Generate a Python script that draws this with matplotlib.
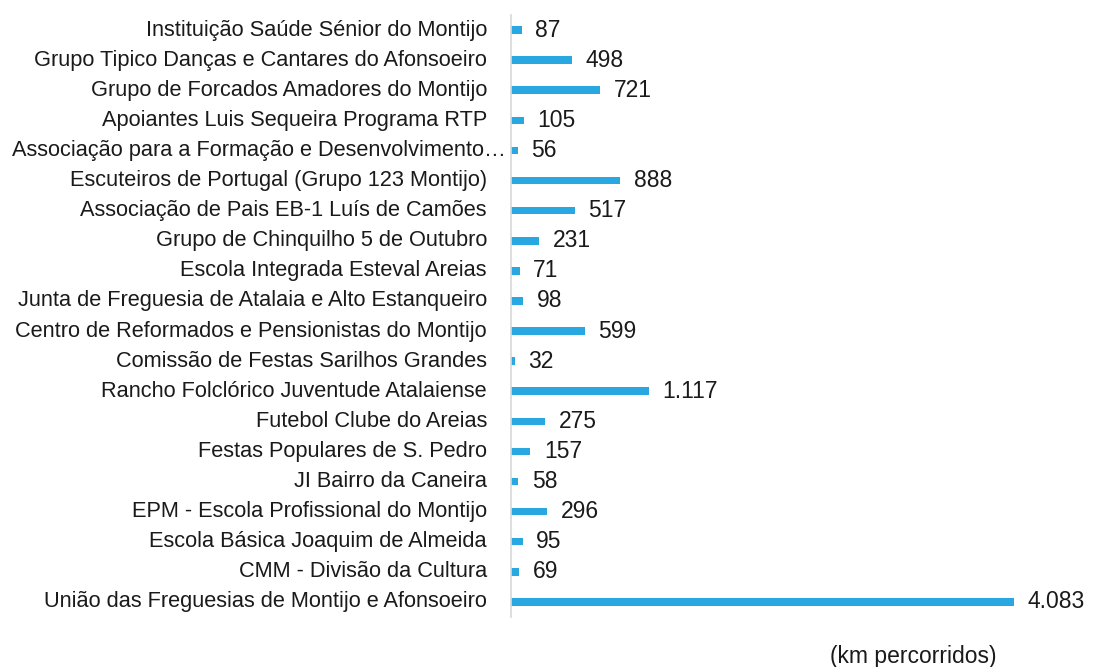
import matplotlib.pyplot as plt
import matplotlib.transforms as mtransforms

plt.rcParams['font.family'] = ['Liberation Sans', 'DejaVu Sans']

labels = [
    'Instituição Saúde Sénior do Montijo',
    'Grupo Tipico Danças e Cantares do Afonsoeiro',
    'Grupo de Forcados Amadores do Montijo',
    'Apoiantes Luis Sequeira Programa RTP',
    'Associação para a Formação e Desenvolvimento…',
    'Escuteiros de Portugal (Grupo 123 Montijo)',
    'Associação de Pais EB-1 Luís de Camões',
    'Grupo de Chinquilho 5 de Outubro',
    'Escola Integrada Esteval Areias',
    'Junta de Freguesia de Atalaia e Alto Estanqueiro',
    'Centro de Reformados e Pensionistas do Montijo',
    'Comissão de Festas Sarilhos Grandes',
    'Rancho Folclórico Juventude Atalaiense',
    'Futebol Clube do Areias',
    'Festas Populares de S. Pedro',
    'JI Bairro da Caneira',
    'EPM - Escola Profissional do Montijo',
    'Escola Básica Joaquim de Almeida',
    'CMM - Divisão da Cultura',
    'União das Freguesias de Montijo e Afonsoeiro',
]
km = [87, 498, 721, 105, 56, 888, 517, 231, 71, 98, 599, 32, 1117, 275, 157, 58, 296, 95, 69, 4083]

fig = plt.figure(figsize=(11.12, 6.67), dpi=100)
ax = fig.add_axes([0.4595, 0.075, 0.52, 0.9025])

pos = list(range(len(labels)))
ax.barh(pos, km, height=0.25, color='#29a7e0')
ax.set_ylim(len(labels) - 0.5, -0.5)
ax.set_xlim(0, 4690)

for y, v in zip(pos, km):
    txt = f'{v:,}'.replace(',', '.')
    ax.text(v + 110, y, txt, va='center', ha='left', fontsize=16.5, color='#1a1a1a')

# category labels drawn as text so the truncated one can hang past the others
trans = mtransforms.blended_transform_factory(ax.transAxes, ax.transData)
for y, lab in zip(pos, labels):
    xoff = -0.0087 if lab.endswith('…') else -0.0415
    ax.text(xoff, y, lab, transform=trans, ha='right', va='center',
            fontsize=15.7, color='#1a1a1a')

ax.set_yticks([])
ax.set_xticks([])
for s in ['top', 'right', 'bottom']:
    ax.spines[s].set_visible(False)
ax.spines['left'].set_color('#d8d8d8')
ax.spines['left'].set_linewidth(1.2)

fig.text(913 / 1112, 1 - 657 / 667, '(km percorridos)', ha='center', va='center',
         fontsize=16.5, color='#1a1a1a')

fig.savefig('out.png', dpi=100, facecolor='white')
